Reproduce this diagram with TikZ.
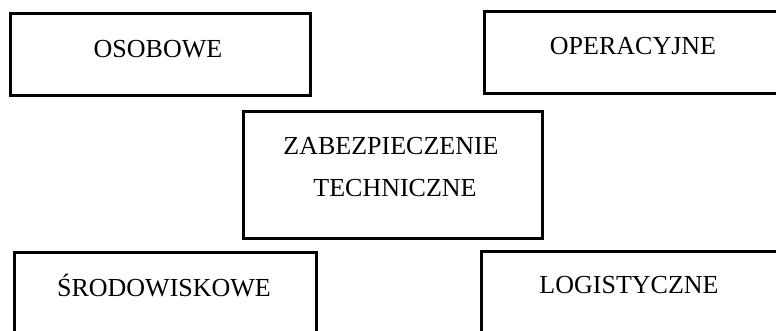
\documentclass[tikz,border=0pt]{standalone}
\usepackage{fontspec}
\setmainfont{Liberation Serif}
\begin{document}
\begin{tikzpicture}[x=0.5pt, y=-0.5pt]
    \tikzset{
        boxline/.style={line width=1.5pt, line join=miter},
        boxtext/.style={anchor=base, inner sep=0pt, font=\fontsize{13}{15}\selectfont}
    }
    % Picture frame
    \useasboundingbox (0,0) rectangle (776,331);
    \clip (0,0) rectangle (776,331);
    
    % Draw the boxes
    \draw[boxline] (10,14) rectangle (310,96);
    \draw[boxline] (484,12) rectangle (800,94);
    \draw[boxline] (243,112) rectangle (542,239);
    \draw[boxline] (14,253) rectangle (316,360);
    \draw[boxline] (481,252) rectangle (800,360);
    
    % Box texts
    \node[boxtext] (osobowe) at (158,58) {OSOBOWE};
    \node[boxtext] (operacyjne) at (633,55) {OPERACYJNE};
    \node[boxtext] (zabezp) at (391,155) {ZABEZPIECZENIE};
    \node[boxtext] (techn) at (395,197) {TECHNICZNE};
    \node[boxtext] (srodow) at (164,297) {ŚRODOWISKOWE};
    \node[boxtext] (logist) at (629,293) {LOGISTYCZNE};
\end{tikzpicture}
\end{document}
